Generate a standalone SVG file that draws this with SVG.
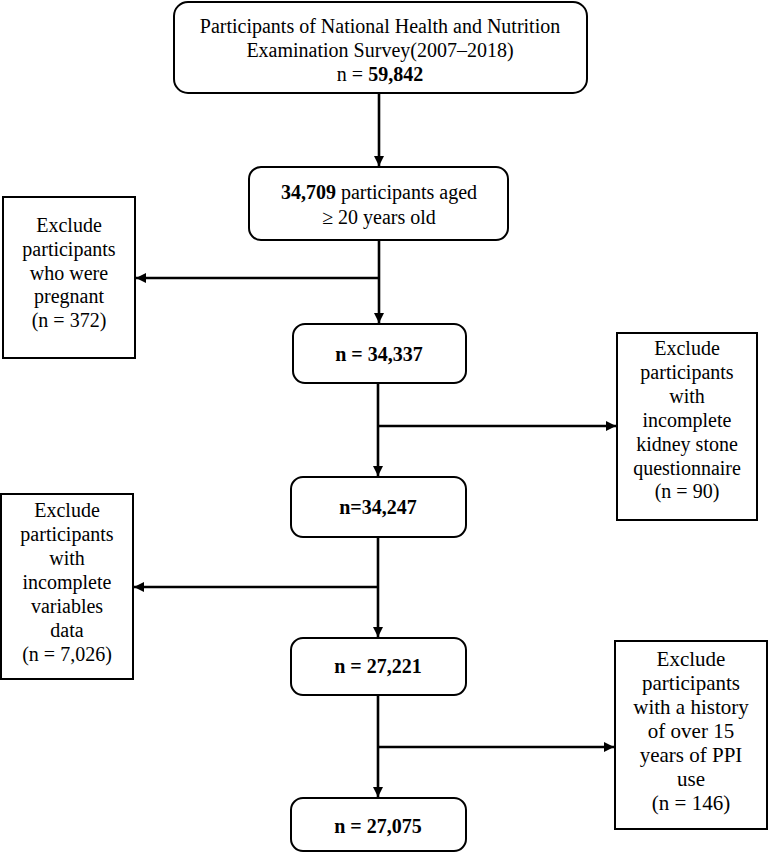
<svg xmlns="http://www.w3.org/2000/svg" width="769" height="858" viewBox="0 0 769 858">
<style>
.box{fill:#fff;stroke:#000;stroke-width:2}
.t{font-family:"Liberation Serif","Times New Roman",serif;font-size:20px;fill:#000;text-anchor:middle}
.b{font-weight:bold}
.c{font-size:21px}
.ln{stroke:#000;stroke-width:2.6;fill:none}
</style>
<defs>
<marker id="ah" viewBox="0 0 10 10" refX="10" refY="5" markerWidth="4" markerHeight="4" orient="auto" markerUnits="strokeWidth">
<path d="M0,0 L10,5 L0,10 Z" fill="#000"/>
</marker>
</defs>
<rect width="769" height="858" fill="#fff"/>
<g id="connectors">
<line class="ln" x1="379" y1="93" x2="379" y2="166" marker-end="url(#ah)"/>
<line class="ln" x1="379" y1="240" x2="379" y2="323" marker-end="url(#ah)"/>
<line class="ln" x1="379" y1="278" x2="136" y2="278" marker-end="url(#ah)"/>
<line class="ln" x1="378" y1="383" x2="378" y2="476" marker-end="url(#ah)"/>
<line class="ln" x1="378" y1="426" x2="616" y2="426" marker-end="url(#ah)"/>
<line class="ln" x1="378" y1="537" x2="378" y2="637" marker-end="url(#ah)"/>
<line class="ln" x1="378" y1="587" x2="134" y2="587" marker-end="url(#ah)"/>
<line class="ln" x1="378" y1="695" x2="378" y2="797" marker-end="url(#ah)"/>
<line class="ln" x1="378" y1="747" x2="614" y2="747" marker-end="url(#ah)"/>
</g>
<g id="n1">
<rect class="box" x="174" y="2" width="413" height="91" rx="14"/>
<text class="t" x="380" y="33">Participants of National Health and Nutrition</text>
<text class="t" x="380" y="57">Examination Survey(2007–2018)</text>
<text class="t" x="380" y="81">n = <tspan class="b">59,842</tspan></text>
</g>
<g id="n2">
<rect class="box" x="249" y="167" width="259" height="73" rx="12"/>
<text class="t" x="379" y="199"><tspan class="b">34,709</tspan> participants aged</text>
<text class="t" x="379" y="224">≥ 20 years old</text>
</g>
<g id="x1">
<rect class="box" x="3" y="197" width="132" height="161"/>
<text class="t" x="69" y="232">Exclude</text>
<text class="t" x="69" y="256">participants</text>
<text class="t" x="69" y="280">who were</text>
<text class="t" x="69" y="303">pregnant</text>
<text class="t" x="69" y="327">(n = 372)</text>
</g>
<g id="n3">
<rect class="box" x="293" y="324" width="173" height="59" rx="12"/>
<text class="t b" x="379" y="361">n = 34,337</text>
</g>
<g id="x2">
<rect class="box" x="617" y="333" width="140" height="187"/>
<text class="t" x="687" y="355">Exclude</text>
<text class="t" x="687" y="379">participants</text>
<text class="t" x="687" y="403">with</text>
<text class="t" x="687" y="427">incomplete</text>
<text class="t" x="687" y="451">kidney stone</text>
<text class="t" x="687" y="475">questionnaire</text>
<text class="t" x="687" y="498">(n = 90)</text>
</g>
<g id="n4">
<rect class="box" x="291" y="477" width="175" height="60" rx="12"/>
<text class="t b" x="378" y="514">n=34,247</text>
</g>
<g id="x3">
<rect class="box" x="1" y="494" width="132" height="185"/>
<text class="t" x="67" y="517">Exclude</text>
<text class="t" x="67" y="541">participants</text>
<text class="t" x="67" y="565">with</text>
<text class="t" x="67" y="589">incomplete</text>
<text class="t" x="67" y="613">variables</text>
<text class="t" x="67" y="637">data</text>
<text class="t" x="67" y="661">(n = 7,026)</text>
</g>
<g id="n5">
<rect class="box" x="291" y="638" width="175" height="57" rx="12"/>
<text class="t b" x="378" y="673">n = 27,221</text>
</g>
<g id="x4">
<rect class="box" x="615" y="641" width="152" height="188"/>
<text class="t c" x="691" y="666">Exclude</text>
<text class="t c" x="691" y="690">participants</text>
<text class="t c" x="691" y="714">with a history</text>
<text class="t c" x="691" y="738">of over 15</text>
<text class="t c" x="691" y="762">years of PPI</text>
<text class="t c" x="691" y="786">use</text>
<text class="t c" x="691" y="810">(n = 146)</text>
</g>
<g id="n6">
<rect class="box" x="291" y="798" width="175" height="53" rx="12"/>
<text class="t b" x="378" y="833">n = 27,075</text>
</g>
</svg>
